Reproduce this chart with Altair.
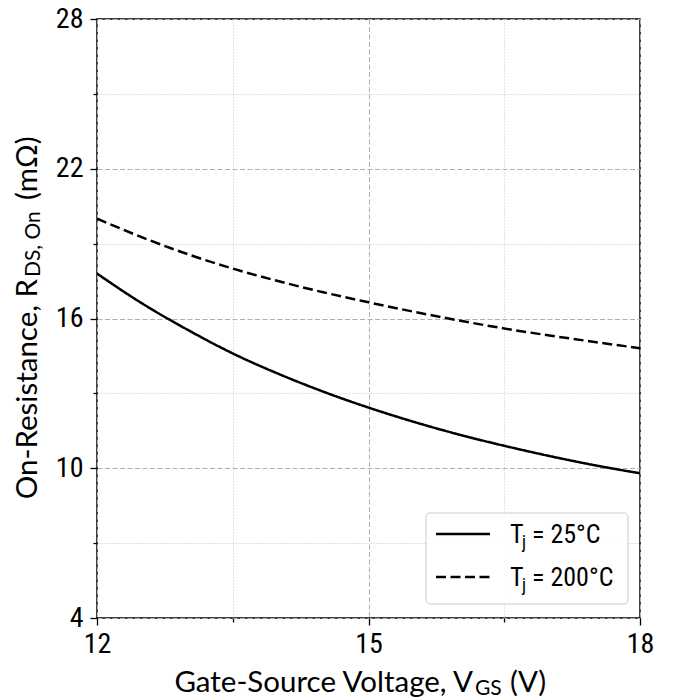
import altair as alt
import pandas as pd

# ---- data ----
vgs = [12.0, 12.5, 13.0, 13.5, 14.0, 14.5, 15.0, 15.5, 16.0, 16.5, 17.0, 17.5, 18.0]
r_25c = [17.8, 16.6, 15.55, 14.6, 13.79, 13.07, 12.43, 11.86, 11.35, 10.9, 10.49, 10.12, 9.8]
r_200c = [20.0, 19.25, 18.58, 18.0, 17.5, 17.05, 16.65, 16.27, 15.92, 15.6, 15.32, 15.06, 14.81]
series_names = ["25", "200"]

x_ticks = [12, 13.5, 15, 16.5, 18]
y_ticks = [4, 7, 10, 13, 16, 19, 22, 25, 28]

x_title_parts = ["Gate-Source Voltage, V", "GS", "(V)"]
y_title_parts = ["On-Resistance, R", "DS, On", "(mΩ)"]
legend_parts = [("T", "j", "= 25°C"), ("T", "j", "= 200°C")]

W, H = 543, 599
COND = "Liberation Sans Narrow, Roboto Condensed, DejaVu Sans Condensed, sans-serif"
LATO = "Lato, Open Sans, sans-serif"

rows = []
for v, a, b in zip(vgs, r_25c, r_200c):
    rows.append({"vgs": v, "r": a, "series": series_names[0]})
    rows.append({"vgs": v, "r": b, "series": series_names[1]})
df = pd.DataFrame(rows)

one = pd.DataFrame({"k": [0]})

x_axis = alt.Axis(
    values=x_ticks, title=None, domain=False,
    labelExpr="datum.value % 3 === 0 ? datum.label : ''",
    labelFont=COND, labelFontSize=28, labelColor="black", labelPadding=5,
    labelFlush=False, labelOverlap=False,
    tickColor="black", tickWidth=1.3,
    tickSize={"condition": {"test": "datum.value % 3 === 0", "value": 7}, "value": 4},
    grid=True,
    gridColor={"condition": {"test": "datum.value % 3 === 0", "value": "#b0b0b0"}, "value": "#c4c4c4"},
    gridDash={"condition": {"test": "datum.value % 3 === 0", "value": [5, 2.5]}, "value": [1, 2]},
    gridWidth=1,
)
y_axis = alt.Axis(
    values=y_ticks, title=None, domain=False,
    labelExpr="(datum.value - 4) % 6 === 0 ? datum.label : ''",
    labelFont=COND, labelFontSize=28, labelColor="black", labelPadding=7,
    labelFlush=False, labelOverlap=False,
    tickColor="black", tickWidth=1.3,
    tickSize={"condition": {"test": "(datum.value - 4) % 6 === 0", "value": 7}, "value": 4},
    grid=True,
    gridColor={"condition": {"test": "(datum.value - 4) % 6 === 0", "value": "#b0b0b0"}, "value": "#c4c4c4"},
    gridDash={"condition": {"test": "(datum.value - 4) % 6 === 0", "value": [5, 2.5]}, "value": [1, 2]},
    gridWidth=1,
)

DASH = [10, 4.5]

lines = alt.Chart(df).mark_line(color="black", strokeWidth=2.5, interpolate="monotone", clip=True).encode(
    x=alt.X("vgs:Q", scale=alt.Scale(domain=[12, 18], nice=False, zero=False), axis=x_axis),
    y=alt.Y("r:Q", scale=alt.Scale(domain=[4, 28], nice=False, zero=False), axis=y_axis),
    strokeDash=alt.StrokeDash("series:N", scale=alt.Scale(domain=series_names, range=[[1, 0], DASH]), legend=None),
    detail="series:N",
)


def txt(text, x, y, size, font, align="left", angle=0):
    return alt.Chart(one).mark_text(
        text=text, align=align, baseline="alphabetic", fontSize=size, font=font,
        angle=angle, color="black"
    ).encode(x=alt.value(x), y=alt.value(y))


layers = [lines]

# x title (with subscript)
layers.append(txt(x_title_parts[0], 376, 673, 29.5, LATO, align="right"))
layers.append(txt(x_title_parts[1], 378, 676, 21, LATO))
layers.append(txt(x_title_parts[2], 413, 673, 29.5, LATO))

# y title (rotated, with subscript)
layers.append(txt(y_title_parts[0], -60, 260, 29.5, LATO, align="right", angle=270))
layers.append(txt(y_title_parts[1], -57, 258, 21, LATO, angle=270))
layers.append(txt(y_title_parts[2], -60, 181, 29.5, LATO, angle=270))

# legend
box = alt.Chart(one).mark_rect(
    fill="white", fillOpacity=0.85, stroke="#cccccc", strokeWidth=1, cornerRadius=4
).encode(x=alt.value(329), x2=alt.value(531), y=alt.value(494), y2=alt.value(585))
layers.append(box)
legend_y = [515, 558]
dashes = [[1, 0], DASH]
for (t, sub, rest), ly, dash in zip(legend_parts, legend_y, dashes):
    layers.append(
        alt.Chart(one).mark_rule(color="black", strokeWidth=2.5, strokeDash=dash).encode(
            x=alt.value(339), x2=alt.value(393), y=alt.value(ly)
        )
    )
    layers.append(txt(t, 413, ly + 9, 26, COND))
    layers.append(txt(sub, 425, ly + 14, 18, COND))
    layers.append(txt(rest, 435, ly + 9, 26, COND))

chart = alt.layer(*layers).properties(
    width=W, height=H,
    autosize=alt.AutoSizeParams(type="none"),
    padding={"left": 97, "top": 19, "right": 33, "bottom": 80},
    background="white",
).configure_view(stroke="black", strokeWidth=1.5)

chart.save("out.html", embed_options={"renderer": "svg", "actions": False})
